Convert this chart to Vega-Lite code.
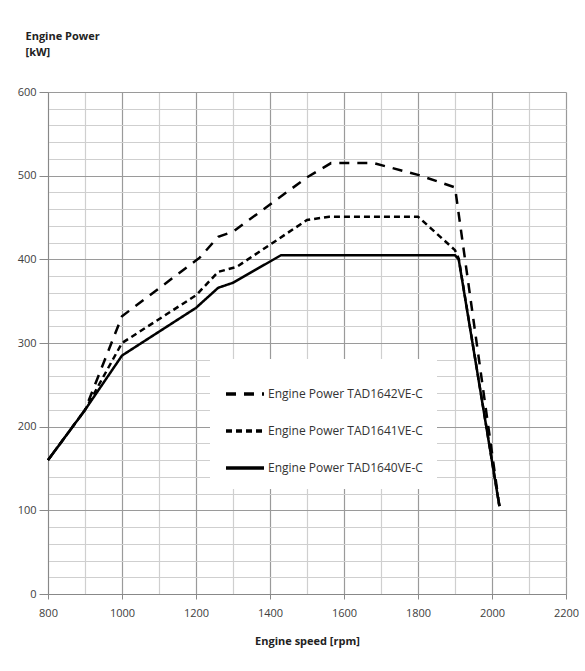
{
  "$schema": "https://vega.github.io/schema/vega-lite/v6.json",
  "autosize": "none",
  "width": 518,
  "height": 502,
  "padding": {"left": 48, "top": 92, "right": 19, "bottom": 77},
  "background": "white",
  "config": {
    "view": {"stroke": null},
    "font": "Open Sans"
  },
  "data": {
    "values": [
      {"series": "Engine Power TAD1642VE-C", "rpm": 800, "kw": 160},
      {"series": "Engine Power TAD1642VE-C", "rpm": 900, "kw": 220},
      {"series": "Engine Power TAD1642VE-C", "rpm": 1000, "kw": 332},
      {"series": "Engine Power TAD1642VE-C", "rpm": 1210, "kw": 402},
      {"series": "Engine Power TAD1642VE-C", "rpm": 1260, "kw": 427},
      {"series": "Engine Power TAD1642VE-C", "rpm": 1300, "kw": 433},
      {"series": "Engine Power TAD1642VE-C", "rpm": 1500, "kw": 498},
      {"series": "Engine Power TAD1642VE-C", "rpm": 1565, "kw": 515},
      {"series": "Engine Power TAD1642VE-C", "rpm": 1680, "kw": 515},
      {"series": "Engine Power TAD1642VE-C", "rpm": 1800, "kw": 501},
      {"series": "Engine Power TAD1642VE-C", "rpm": 1900, "kw": 486},
      {"series": "Engine Power TAD1642VE-C", "rpm": 2020, "kw": 105},
      {"series": "Engine Power TAD1641VE-C", "rpm": 800, "kw": 160},
      {"series": "Engine Power TAD1641VE-C", "rpm": 900, "kw": 220},
      {"series": "Engine Power TAD1641VE-C", "rpm": 1000, "kw": 300},
      {"series": "Engine Power TAD1641VE-C", "rpm": 1200, "kw": 357},
      {"series": "Engine Power TAD1641VE-C", "rpm": 1260, "kw": 385},
      {"series": "Engine Power TAD1641VE-C", "rpm": 1310, "kw": 391},
      {"series": "Engine Power TAD1641VE-C", "rpm": 1500, "kw": 447},
      {"series": "Engine Power TAD1641VE-C", "rpm": 1560, "kw": 451},
      {"series": "Engine Power TAD1641VE-C", "rpm": 1800, "kw": 451},
      {"series": "Engine Power TAD1641VE-C", "rpm": 1900, "kw": 411},
      {"series": "Engine Power TAD1641VE-C", "rpm": 1910, "kw": 401},
      {"series": "Engine Power TAD1641VE-C", "rpm": 2020, "kw": 105},
      {"series": "Engine Power TAD1640VE-C", "rpm": 800, "kw": 160},
      {"series": "Engine Power TAD1640VE-C", "rpm": 900, "kw": 220},
      {"series": "Engine Power TAD1640VE-C", "rpm": 1000, "kw": 285},
      {"series": "Engine Power TAD1640VE-C", "rpm": 1200, "kw": 342},
      {"series": "Engine Power TAD1640VE-C", "rpm": 1260, "kw": 366},
      {"series": "Engine Power TAD1640VE-C", "rpm": 1300, "kw": 372},
      {"series": "Engine Power TAD1640VE-C", "rpm": 1430, "kw": 405},
      {"series": "Engine Power TAD1640VE-C", "rpm": 1900, "kw": 405},
      {"series": "Engine Power TAD1640VE-C", "rpm": 1910, "kw": 400},
      {"series": "Engine Power TAD1640VE-C", "rpm": 2020, "kw": 105}
    ]
  },
  "mark": {"type": "line", "color": "black", "strokeWidth": 2.5},
  "encoding": {
    "x": {
      "field": "rpm", "type": "quantitative",
      "scale": {"domain": [800, 2200], "nice": false, "zero": false},
      "axis": {
        "values": [800, 900, 1000, 1100, 1200, 1300, 1400, 1500, 1600, 1700, 1800, 1900, 2000, 2100, 2200],
        "labelExpr": "datum.value % 200 === 0 ? datum.label : ''",
        "format": "d",
        "labelFlush": false,
        "grid": true,
        "gridColor": {"condition": {"test": "datum.value % 200 === 0", "value": "#9a9a9a"}, "value": "#cfcfcf"},
        "gridWidth": 1.2,
        "tickSize": 5,
        "tickColor": "#888888",
        "tickOpacity": {"condition": {"test": "datum.value % 200 === 0", "value": 1}, "value": 0},
        "domainColor": "#888888",
        "labelFontSize": 11,
        "labelColor": "#404040",
        "labelPadding": 8,
        "labelFont": "Open Sans",
        "title": "Engine speed [rpm]",
        "titleFont": "Open Sans",
        "titleFontSize": 11,
        "titleFontWeight": "bold",
        "titleColor": "#222222",
        "titleY": 47,
        "titleBaseline": "middle"
      }
    },
    "y": {
      "field": "kw", "type": "quantitative",
      "scale": {"domain": [0, 600], "nice": false},
      "axis": {
        "values": [0, 20, 40, 60, 80, 100, 120, 140, 160, 180, 200, 220, 240, 260, 280, 300, 320, 340, 360, 380, 400, 420, 440, 460, 480, 500, 520, 540, 560, 580, 600],
        "labelExpr": "datum.value % 100 === 0 ? datum.label : ''",
        "labelFlush": false,
        "grid": true,
        "gridColor": {"condition": {"test": "datum.value % 100 === 0", "value": "#9a9a9a"}, "value": "#cfcfcf"},
        "gridWidth": 1.2,
        "tickSize": 9,
        "tickColor": "#888888",
        "tickOpacity": {"condition": {"test": "datum.value % 100 === 0", "value": 1}, "value": 0},
        "domainColor": "#888888",
        "labelFontSize": 11,
        "labelColor": "#404040",
        "labelPadding": 3,
        "labelFont": "Open Sans",
        "title": ["Engine Power", "[kW]"],
        "titleFont": "Open Sans",
        "titleFontSize": 11,
        "titleFontWeight": "bold",
        "titleColor": "#222222",
        "titleAngle": 0,
        "titleAlign": "left",
        "titleBaseline": "middle",
        "titleLineHeight": 16,
        "titleX": -23,
        "titleY": -56
      }
    },
    "strokeDash": {
      "field": "series", "type": "nominal",
      "scale": {
        "domain": ["Engine Power TAD1642VE-C", "Engine Power TAD1641VE-C", "Engine Power TAD1640VE-C"],
        "range": [[10, 8], [6, 4], [1, 0]]
      },
      "legend": {
        "title": null,
        "orient": "none",
        "legendX": 162,
        "legendY": 267,
        "fillColor": "white",
        "padding": 14,
        "symbolType": "stroke",
        "symbolSize": 1444,
        "symbolStrokeWidth": 3.5,
        "symbolStrokeColor": "black",
        "labelFontSize": 12,
        "labelFont": "Open Sans",
        "labelColor": "#333333",
        "labelOffset": 2,
        "rowPadding": 9
      }
    }
  }
}
